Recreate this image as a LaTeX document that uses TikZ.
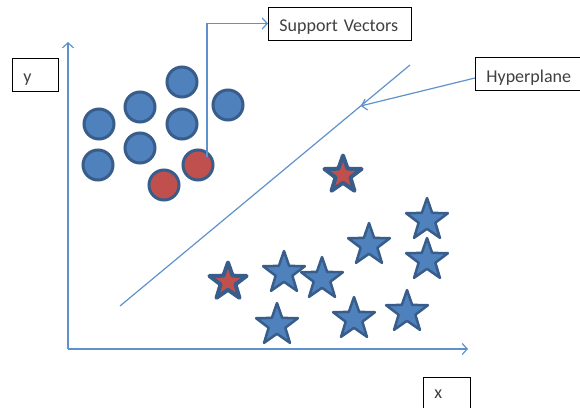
\documentclass[tikz,border=0pt]{standalone}
\usepackage{fontspec}
\setmainfont{Carlito}
\usetikzlibrary{arrows.meta}
\usetikzlibrary{shapes.geometric}
\usepackage{xcolor}
\definecolor{ptblue}{RGB}{79,129,189}
\definecolor{ptedge}{RGB}{56,93,138}
\definecolor{ptred}{RGB}{192,80,77}
\definecolor{lineblue}{RGB}{95,145,205}

\begin{document}
\begin{tikzpicture}[x=1pt, y=-1pt, >={Straight Barb[length=5pt,width=11pt]},
 box/.style={draw=black, fill=white, line width=0.8pt, anchor=west, align=left, inner xsep=11pt, inner ysep=0pt, minimum height=33pt, text height=18pt, text depth=2pt, font=\fontsize{18}{20}\selectfont, text=black!75},
 dot/.style={circle, draw=ptedge, line width=3pt, fill=ptblue, minimum size=30pt, inner sep=0pt},
 bstar/.style={star, star points=5, star point ratio=2.5, draw=ptedge, line width=2.5pt, line join=round, fill=ptblue, minimum size=44pt, inner sep=0pt},
 rstar/.style={bstar, fill=ptred, line width=4pt, minimum size=39pt},
 guide/.style={lineblue, line width=1.2pt}]
\useasboundingbox (0,0) rectangle (580,407);

\coordinate (o) at (68,349);
\coordinate (xe) at (468,349);
\coordinate (ye) at (68,42);
\draw[guide, ->] (o) -- (xe);
\draw[guide, ->] (o) -- (ye);

\coordinate (h1) at (120,306);
\coordinate (h2) at (410,65);
\draw[guide] (h1) -- coordinate[pos=0.83] (hm) (h2);

\foreach \p [count=\i] in {(182,82),(140,107),(99,124),(182,124),(228,105),(140,148),(98,165)}
 \node[dot] (c\i) at \p {};
\node[dot, fill=ptred] (s1) at (198,165) {};
\node[dot, fill=ptred] (s2) at (164,185) {};

\foreach \p [count=\i] in {(427,220),(369,245),(427,260),(284,273),(322,279),(277,325),(354,319),(407,312)}
 \node[bstar] (t\i) at \p {};
\node[rstar] (r1) at (343,175) {};
\node[rstar] (r2) at (228,282) {};

\node[box, text width=121pt] (sv) at (268,23.5) {Support Vectors};
\node[box, text width=84pt] (hp) at (475,74) {Hyperplane};
\node[box, text width=24pt] (ylab) at (12,74.5) {y};
\node[box, text width=25pt, minimum height=38pt, text height=6pt] (xlab) at (423,396) {x};

\draw[guide, ->] ([xshift=9pt, yshift=8pt]s1.center) |- (sv.west);
\draw[guide, ->] ([yshift=-4pt]hp.west) -- (hm);
\end{tikzpicture}
\end{document}
